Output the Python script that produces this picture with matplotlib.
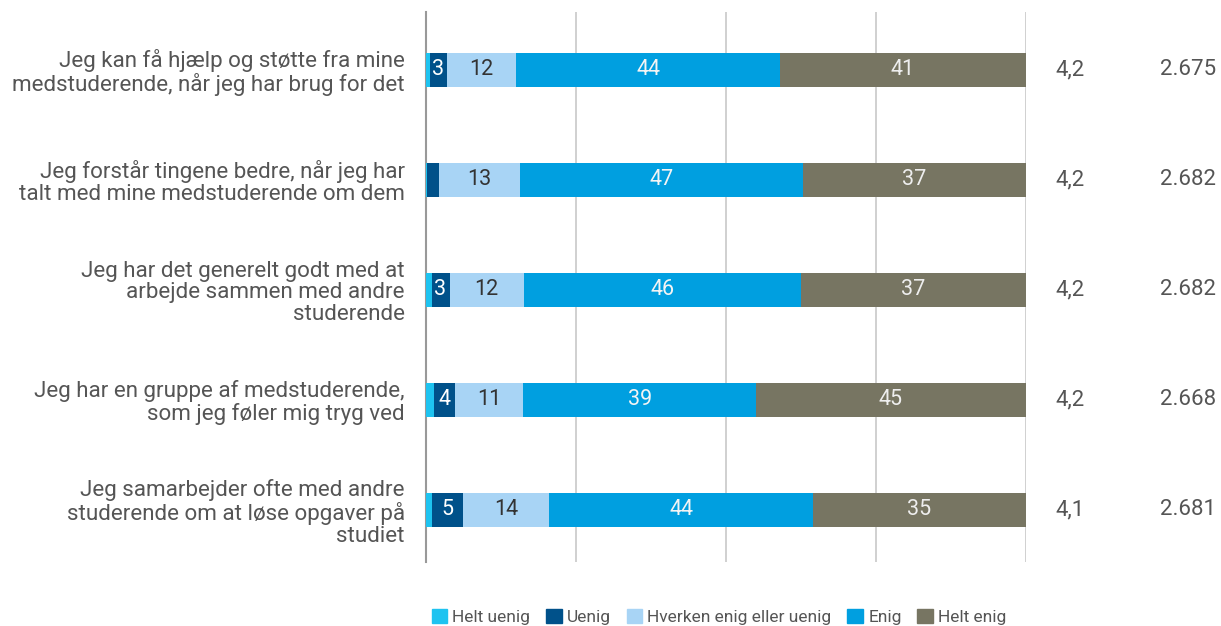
import numpy as np
import matplotlib.pyplot as plt
from matplotlib.patches import Patch

plt.rcParams['font.family'] = ['Roboto', 'DejaVu Sans']

questions = [
    "Jeg kan få hjælp og støtte fra mine\nmedstuderende, når jeg har brug for det",
    "Jeg forstår tingene bedre, når jeg har\ntalt med mine medstuderende om dem",
    "Jeg har det generelt godt med at\narbejde sammen med andre\nstuderende",
    "Jeg har en gruppe af medstuderende,\nsom jeg føler mig tryg ved",
    "Jeg samarbejder ofte med andre\nstuderende om at løse opgaver på\nstudiet",
]
categories = ["Helt uenig", "Uenig", "Hverken enig eller uenig", "Enig", "Helt enig"]

# andele i procent (aflæst)
helt_uenig = [0.8, 0.3, 1.0, 1.4, 1.1]
uenig = [2.7, 2.0, 3.0, 3.5, 5.1]
hverken = [11.6, 13.4, 12.4, 11.4, 14.4]
enig = [44.0, 47.2, 46.2, 38.8, 44.0]
helt_enig = [40.9, 37.1, 37.4, 44.9, 35.4]

gennemsnit = ["4,2", "4,2", "4,2", "4,2", "4,1"]
antal = ["2.675", "2.682", "2.682", "2.668", "2.681"]

colors = ["#1ec3f0", "#00518a", "#a8d4f5", "#009fe0", "#777562"]
text_colors = ["white", "white", "#333333", "#f4f4f4", "#eeeeee"]

fig = plt.figure(figsize=(12.21, 6.26), dpi=100)
ax = fig.add_axes([0.3485, 0.1022, 0.4914, 0.8786])

series = [helt_uenig, uenig, hverken, enig, helt_enig]
y = np.arange(len(questions))
left = np.zeros(len(questions))
for vals, col, tcol, name in zip(series, colors, text_colors, categories):
    vals = np.array(vals)
    ax.barh(y, vals, left=left, height=0.31, color=col, label=name, zorder=3)
    for yi, l, v in zip(y, left, vals):
        if round(v) >= 3:
            ax.text(l + v / 2, yi, str(int(round(v))), ha='center', va='center',
                    fontsize=15.5, color=tcol, zorder=4)
    left = left + vals

for yi, g, n in zip(y, gennemsnit, antal):
    ax.text(107.5, yi, g, ha='center', va='center', fontsize=16, color='#555555', clip_on=False)
    ax.text(131.7, yi, n, ha='right', va='center', fontsize=16, color='#555555', clip_on=False)

ax.set_xlim(0, 100)
ax.set_ylim(4.473, -0.527)
ax.set_xticks([0, 25, 50, 75, 100])
ax.set_xticklabels([])
ax.tick_params(axis='both', length=0)
ax.xaxis.grid(True, color='#c8c8c8', linewidth=1.2, zorder=0)
ax.set_yticks(y)
ax.set_yticklabels(questions, fontsize=16.1, color='#555555', linespacing=1.05)
ax.tick_params(axis='y', pad=15)
for s in ['top', 'right', 'bottom']:
    ax.spines[s].set_visible(False)
ax.spines['left'].set_color('#999999')
ax.spines['left'].set_linewidth(1.5)

handles = [Patch(facecolor=c, edgecolor=c) for c in colors]
fig.legend(handles, categories, loc='center', bbox_to_anchor=(719 / 1221, 1 - 617 / 626),
           ncol=5, frameon=False, fontsize=12.5, handlelength=0.9, handleheight=0.9,
           handletextpad=0.3, columnspacing=0.9, labelcolor='#555555')

fig.savefig('out.png', dpi=100)
